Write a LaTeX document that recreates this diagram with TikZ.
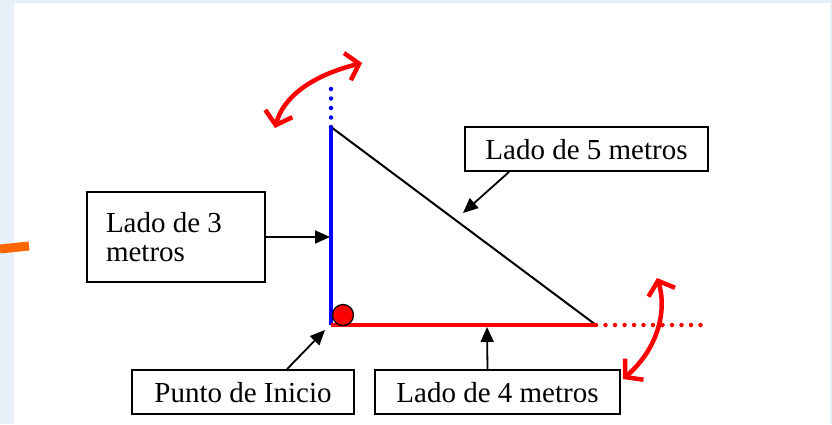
\documentclass[tikz,border=0pt]{standalone}
\usepackage{fontspec}
\setmainfont{Liberation Serif}
\usepackage{xcolor}
\usepackage{tikz}
\usetikzlibrary{arrows.meta}
\definecolor{pageblue}{HTML}{E8F0FA}
\definecolor{markorange}{HTML}{FF6600}
\definecolor{sidered}{HTML}{FF0000}
\definecolor{sideblue}{HTML}{0000FF}

\begin{document}
\begin{tikzpicture}[
  x=1pt, y=-1pt,
  lbl/.style={draw, line width=1.8pt, inner sep=0pt, font=\fontsize{29}{29.5}\selectfont},
  pointer/.style={line width=1.8pt, -{Triangle[length=15pt,width=13pt]}},
  swing/.style={sidered, line width=4.5pt, line cap=round, {Straight Barb[length=12pt,width=28pt]}-{Straight Barb[length=12pt,width=28pt]}},
  dots/.style={line width=4.5pt, line cap=round, dash pattern=on 0pt off 9.5pt}
]
\useasboundingbox (0,0) rectangle (832,424);
% Page
\fill[pageblue] (0,0) rectangle (832,424);
\fill[white] (14,3) rectangle (830,424);
\draw[markorange, line width=9pt] (0,249) -- (29,246);

% Triangle
\coordinate (top) at (331,127);
\coordinate (origin) at (331,325);
\coordinate (right) at (596,325);
\coordinate (topext) at (331,82);
\coordinate (rightext) at (708,325);
\draw[sideblue, dots] (top) -- (topext);
\draw[sidered, dots] (right) -- (rightext);
\draw[line width=2pt] (top) -- (right);
\draw[sideblue, line width=3.8pt] (top) -- (origin);
\draw[sidered, line width=3.8pt] (origin) -- (right);
\node[circle, fill=sidered, draw=black, line width=1.3pt, minimum size=21pt, inner sep=0pt] (start) at (343,315) {};

% Rotation arrows
\coordinate (swa1) at (275,128);
\coordinate (swa2) at (362,63);
\draw[swing] (swa1) .. controls (283,98) and (310,76) .. (swa2);
\coordinate (swb1) at (657,278);
\coordinate (swb2) at (623,379);
\draw[swing] (swb1) .. controls (666,305) and (662,345) .. (swb2);

% Labels
\node[lbl, minimum width=178pt, minimum height=90pt, text width=140pt, align=flush left] (lado3) at (176,237) {Lado de 3\\metros};
\node[lbl, minimum width=243pt, minimum height=44pt, text depth=0pt] (lado5) at (586.5,149) {Lado de 5 metros};
\node[lbl, minimum width=222pt, minimum height=44pt, text depth=0pt] (punto) at (243,392) {Punto de Inicio};
\node[lbl, minimum width=245pt, minimum height=44pt, text depth=0pt] (lado4) at (497.5,392) {Lado de 4 metros};

% Pointers
\coordinate (on3) at (330,237);
\coordinate (on5) at (463,213);
\coordinate (onstart) at (325,330);
\coordinate (on4) at (487,327);
\draw[pointer] (lado3.east) -- (on3);
\draw[pointer] ([xshift=45pt]lado5.south west) -- (on5);
\draw[pointer] ([xshift=44pt]punto.north) -- (onstart);
\draw[pointer] ([xshift=-10pt]lado4.north) -- (on4);
\end{tikzpicture}
\end{document}
